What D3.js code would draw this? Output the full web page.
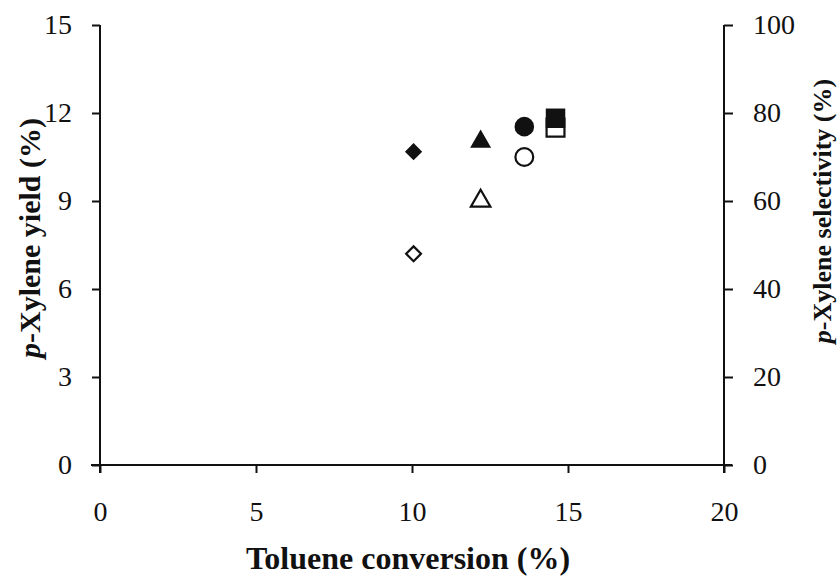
<!DOCTYPE html>
<html>
<head>
<meta charset="utf-8">
<script src="https://cdn.jsdelivr.net/npm/d3@7"></script>
<style>
  body { margin: 0; background: #fff; }
  text { font-family: "Liberation Serif", "Times New Roman", serif; fill: #111; }
  .tick text { font-size: 28px; }
  .title { font-weight: bold; }
</style>
</head>
<body>
<div id="chart"></div>
<script>
// catalysts -> toluene conversion (%), p-xylene selectivity (%) and p-xylene yield (%)
const shapes = ["diamond", "triangle", "circle", "square"];
const conversion = [10.05, 12.2, 13.6, 14.6];
const selectivity = [71.2, 73.5, 76.9, 78.8];
const yieldPx = [7.2, 9.0, 10.5, 11.5];

const xTicks = [0, 5, 10, 15, 20];
const yTicks = [0, 3, 6, 9, 12, 15];
const y2Ticks = [0, 20, 40, 60, 80, 100];

const w = 839;
const h = 576;
const padL = 100, padR = 724, padT = 25, padB = 465;

const xScale = d3.scaleLinear().domain([0, 20]).range([padL, padR]);
const yScale = d3.scaleLinear().domain([0, 15]).range([padB, padT]);
const y2Scale = d3.scaleLinear().domain([0, 100]).range([padB, padT]);

const svg = d3.select("#chart").append("svg")
  .attr("width", w)
  .attr("height", h);

// axes
const xAxis = d3.axisBottom(xScale).tickValues(xTicks).tickSize(8).tickPadding(28).tickFormat(d3.format("d"));
const yAxis = d3.axisLeft(yScale).tickValues(yTicks).tickSize(8).tickPadding(20).tickFormat(d3.format("d"));
const y2Axis = d3.axisRight(y2Scale).tickValues(y2Ticks).tickSize(9).tickPadding(20).tickFormat(d3.format("d"));

function styleAxis(g) {
  g.select(".domain").remove();
  g.selectAll(".tick line").attr("stroke", "#111").attr("stroke-width", 2);
  g.selectAll(".tick text").attr("fill", "#111");
}

svg.append("g").attr("transform", "translate(0," + padB + ")").call(xAxis).call(styleAxis);
svg.append("g").attr("transform", "translate(" + padL + ",0)").call(yAxis).call(styleAxis);
svg.append("g").attr("transform", "translate(" + padR + ",0)").call(y2Axis).call(styleAxis);

// axis lines
svg.append("line").attr("x1", padL - 9).attr("x2", padR + 8).attr("y1", padB).attr("y2", padB)
  .attr("stroke", "#111").attr("stroke-width", 2);
svg.append("line").attr("x1", padL).attr("x2", padL).attr("y1", padT).attr("y2", padB + 8)
  .attr("stroke", "#111").attr("stroke-width", 2);
svg.append("line").attr("x1", padR).attr("x2", padR).attr("y1", padT).attr("y2", padB + 8)
  .attr("stroke", "#111").attr("stroke-width", 2);

// marker shapes
const sym = {
  diamond: d3.symbol().type(d3.symbolDiamond2).size(190),
  triangle: d3.symbol().type(d3.symbolTriangle).size(190),
  circle: d3.symbol().type(d3.symbolCircle).size(300),
  square: d3.symbol().type(d3.symbolSquare).size(380)
};
const openSym = {
  diamond: d3.symbol().type(d3.symbolDiamond2).size(140),
  triangle: d3.symbol().type(d3.symbolTriangle).size(165),
  circle: d3.symbol().type(d3.symbolCircle).size(250),
  square: d3.symbol().type(d3.symbolSquare).size(320)
};

// open markers: yield (left axis)
svg.selectAll(".open")
  .data(shapes)
  .enter()
  .append("path")
  .attr("class", "open")
  .attr("d", d => openSym[d]())
  .attr("transform", (d, i) => "translate(" + xScale(conversion[i]) + "," + yScale(yieldPx[i]) + ")")
  .attr("fill", "#fff")
  .attr("stroke", "#111")
  .attr("stroke-width", 2.2);

// filled markers: selectivity (right axis)
svg.selectAll(".filled")
  .data(shapes)
  .enter()
  .append("path")
  .attr("class", "filled")
  .attr("d", d => sym[d]())
  .attr("transform", (d, i) => "translate(" + xScale(conversion[i]) + "," + y2Scale(selectivity[i]) + ")")
  .attr("fill", "#111");

// axis titles
svg.append("text")
  .attr("class", "title")
  .attr("font-size", 32)
  .attr("text-anchor", "middle")
  .attr("x", 408)
  .attr("y", 569)
  .text("Toluene conversion (%)");

const yTitle = svg.append("text")
  .attr("class", "title")
  .attr("font-size", 30)
  .attr("text-anchor", "middle")
  .attr("transform", "translate(40,238) rotate(-90)");
yTitle.append("tspan").attr("font-style", "italic").text("p");
yTitle.append("tspan").text("-Xylene yield (%)");

const y2Title = svg.append("text")
  .attr("class", "title")
  .attr("font-size", 26)
  .attr("text-anchor", "middle")
  .attr("transform", "translate(831,211) rotate(-90)");
y2Title.append("tspan").attr("font-style", "italic").text("p");
y2Title.append("tspan").text("-Xylene selectivity (%)");
</script>
</body>
</html>
